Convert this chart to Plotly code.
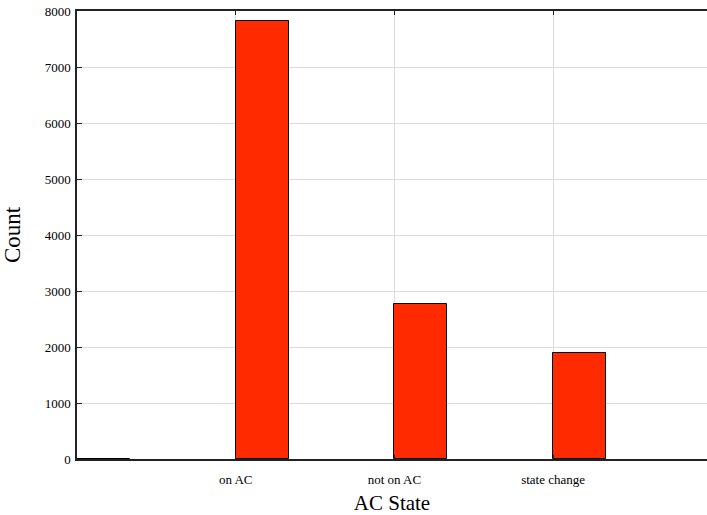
import plotly.graph_objects as go

categories = ["", "on AC", "not on AC", "state change"]
counts = [4, 7825, 2770, 1890]

xpos = list(range(len(categories)))

fig = go.Figure()
fig.add_trace(go.Bar(
    x=xpos, y=counts, width=0.333, offset=0,
    marker=dict(color="#ff2a00", line=dict(color="black", width=1)),
))

fig.update_layout(
    width=707, height=515,
    margin=dict(l=77, r=0, t=11, b=56),
    plot_bgcolor="white", paper_bgcolor="white",
    font=dict(family="Liberation Serif", color="black", size=13),
    showlegend=False,
    bargap=0,
)
fig.update_xaxes(
    range=[0, 3.97], tickvals=xpos, ticktext=categories,
    showgrid=True, gridcolor="#dcdcdc", gridwidth=1,
    showline=True, linecolor="#222", linewidth=1.5, mirror="ticks",
    ticks="inside", ticklen=4, tickcolor="#222",
    ticklabelstandoff=8,
    title=dict(text="AC State", font=dict(size=21), standoff=14),
    tickfont=dict(size=13), zeroline=False,
)
fig.update_yaxes(
    range=[0, 8000], dtick=1000,
    showgrid=True, gridcolor="#dcdcdc", gridwidth=1,
    showline=True, linecolor="#222", linewidth=1.5,
    ticks="inside", ticklen=5, tickcolor="#222",
    ticklabelstandoff=2,
    title=dict(text="Count", font=dict(size=23), standoff=18),
    tickfont=dict(size=13), zeroline=False,
)

fig.write_html("out.html")
